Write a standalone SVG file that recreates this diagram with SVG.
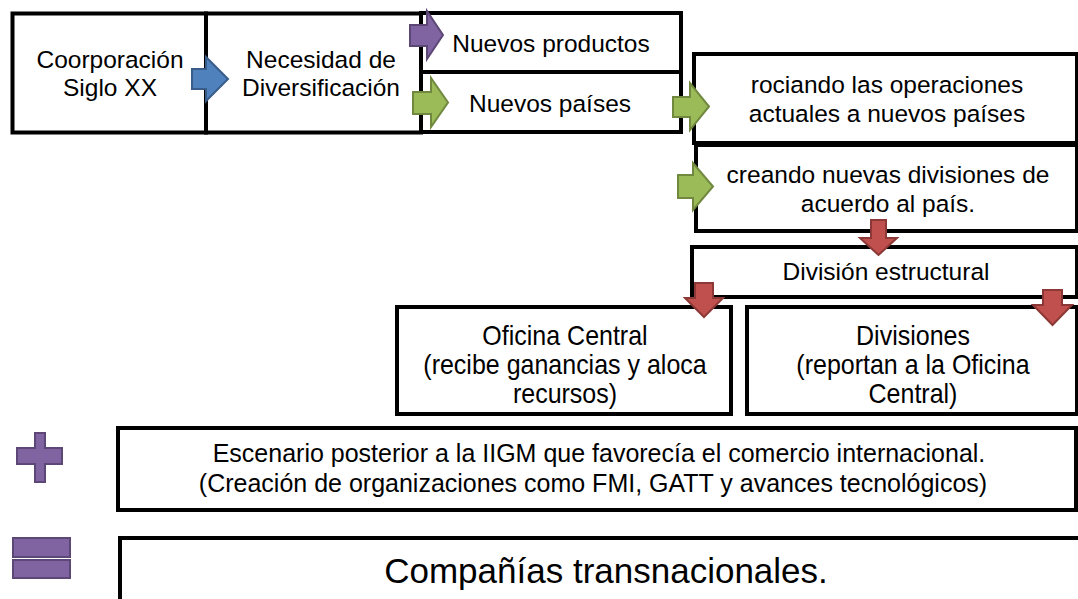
<svg xmlns="http://www.w3.org/2000/svg" width="1078" height="599" viewBox="0 0 1078 599">
<style>
.box{fill:#fff;stroke:#000;stroke-width:4}
.t{font-family:"Liberation Sans",Arial,sans-serif;font-size:24.5px;fill:#000;text-anchor:middle}
.tn{font-family:"Liberation Sans",Arial,sans-serif;font-size:28.5px;fill:#000;text-anchor:middle}
.blue{fill:#4F81BD;stroke:#385D8A;stroke-width:2}
.purple{fill:#8064A2;stroke:#5C4776;stroke-width:2}
.green{fill:#9BBB59;stroke:#71893F;stroke-width:2}
.red{fill:#C0504D;stroke:#8C3836;stroke-width:2}
</style>
<rect width="1078" height="599" fill="#fff"/>
<g id="n-corp"><rect class="box" x="12.5" y="13.5" width="193.5" height="119"/>
<text class="t" x="110" y="68">Coorporación</text><text class="t" x="110" y="96">Siglo XX</text></g>
<g id="n-necesidad"><rect class="box" x="206" y="13.5" width="215" height="119"/>
<text class="t" x="321" y="68">Necesidad de</text><text class="t" x="321" y="96">Diversificación</text></g>
<g id="n-productos"><rect class="box" x="421" y="13" width="260" height="59"/>
<text class="t" x="551" y="52">Nuevos productos</text></g>
<g id="n-paises"><rect class="box" x="421" y="72" width="260" height="60"/>
<text class="t" x="550" y="112">Nuevos países</text></g>
<g id="n-rociando"><rect class="box" x="694" y="54" width="383" height="89"/>
<text class="t" x="887" y="93">rociando las operaciones</text><text class="t" x="887" y="122">actuales a nuevos países</text></g>
<g id="n-creando"><rect class="box" x="696" y="145" width="381" height="86"/>
<text class="t" x="888" y="183">creando nuevas divisiones de</text><text class="t" x="888" y="212">acuerdo al país.</text></g>
<g id="n-division"><rect class="box" x="692" y="247" width="385" height="50"/>
<text class="t" x="886" y="280">División estructural</text></g>
<g id="n-oficina"><rect class="box" x="397" y="307" width="334" height="107"/>
<g transform="translate(565,0) scale(0.877,1)"><text class="tn" x="0" y="345">Oficina Central</text><text class="tn" x="0" y="374">(recibe ganancias y aloca</text><text class="tn" x="0" y="403">recursos)</text></g></g>
<g id="n-divisiones"><rect class="box" x="747" y="307" width="330" height="107"/>
<g transform="translate(913,0) scale(0.877,1)"><text class="tn" x="0" y="345">Divisiones</text><text class="tn" x="0" y="374">(reportan a la Oficina</text><text class="tn" x="0" y="403">Central)</text></g></g>
<g id="n-escenario"><rect class="box" x="118" y="428" width="958" height="82"/>
<text class="t" style="font-size:25px" x="599" y="462">Escenario posterior a la IIGM que favorecía el comercio internacional.</text>
<text class="t" style="font-size:25px" x="593" y="492">(Creación de organizaciones como FMI, GATT y avances tecnológicos)</text></g>
<g id="n-companias"><rect class="box" x="120" y="538" width="980" height="90"/>
<text class="t" style="font-size:35px" x="606" y="583">Compañías transnacionales.</text></g>
<g id="connectors">
<path class="blue" d="M192,69 H206 V57 L228,79 L206,101 V89 H192 Z"/>
<path class="purple" d="M410,25 H427 V11 L443,35 L427,59 V46 H410 Z"/>
<path class="green" d="M413,92 H431 V78 L448,102.5 L431,127 V114 H413 Z"/>
<path class="green" d="M673,97 H690 V83 L709,106.5 L690,130 V117 H673 Z"/>
<path class="green" d="M678,175 H693 V163 L713,186.5 L693,210 V198 H678 Z"/>
<path class="red" d="M871,220 H886 V238 H897 L878.5,255 L860,238 H871 Z"/>
<path class="red" d="M695,283 H713 V298 H723 L704,317 L685,298 H695 Z"/>
<path class="red" d="M1043,290 H1062 V305 H1072 L1052.5,325 L1033,305 H1043 Z"/>
</g>
<g id="plus"><path class="purple" d="M35,433 H45 V448 H62 V464 H45 V482 H35 V464 H17 V448 H35 Z"/></g>
<g id="equals"><rect class="purple" x="13" y="538" width="57" height="19"/><rect class="purple" x="13" y="560" width="57" height="18"/></g>
</svg>
